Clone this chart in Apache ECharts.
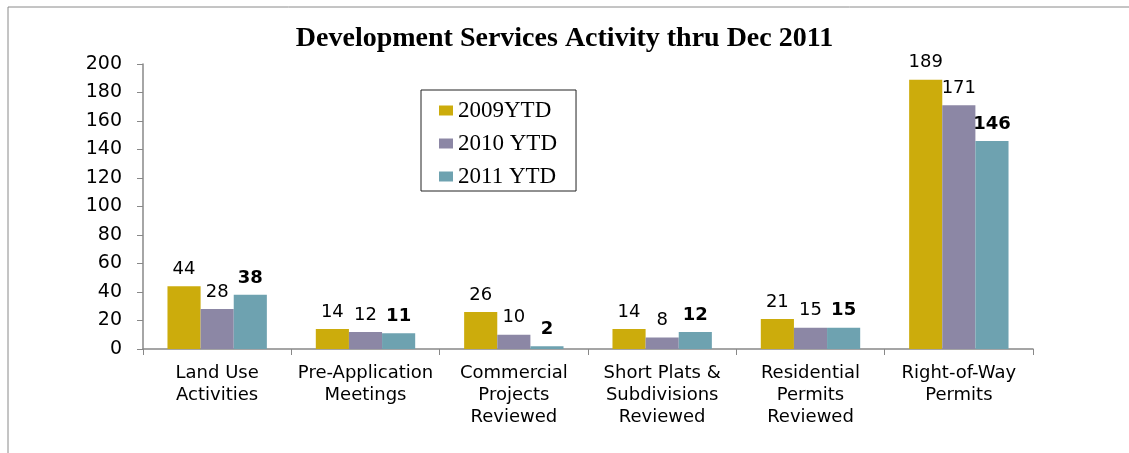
<!DOCTYPE html>
<html>
<head>
<meta charset="utf-8">
<script src="https://cdn.jsdelivr.net/npm/echarts@6/dist/echarts.min.js"></script>
<style>
  html, body { margin: 0; padding: 0; background: #fff; }
  #chart { width: 1129px; height: 453px; }
</style>
</head>
<body>
<div id="chart"></div>
<script>
// data
const categories = [
  'Land Use\nActivities',
  'Pre-Application\nMeetings',
  'Commercial\nProjects\nReviewed',
  'Short Plats &\nSubdivisions\nReviewed',
  'Residential\nPermits\nReviewed',
  'Right-of-Way\nPermits'
]
const ytd2009 = [44, 14, 26, 14, 21, 189]
const ytd2010 = [28, 12, 10, 8, 15, 171]
const ytd2011 = [38, 11, 2, 12, 15, 146]
const seriesNames = ['2009YTD', '2010 YTD', '2011 YTD']
const colors = ['#CCAC0C', '#8C87A5', '#6EA2B0']

const labelFont = 'DejaVu Sans'
const chart = echarts.init(document.getElementById('chart'))

const makeSeries = (name, data, color, bold) => ({
  name,
  type: 'bar',
  data,
  barGap: 0,
  barCategoryGap: '33%',
  itemStyle: { color },
  label: {
    show: true,
    position: 'top',
    distance: 8,
    color: '#000',
    fontFamily: labelFont,
    fontSize: 18,
    fontWeight: bold ? 'bold' : 'normal'
  }
})

chart.setOption({
  animation: false,
  color: colors,
  title: {
    text: 'Development Services Activity thru Dec 2011',
    left: 'center',
    top: 20,
    textStyle: {
      fontFamily: 'Liberation Serif',
      fontSize: 28,
      fontWeight: 'bold',
      color: '#000'
    }
  },
  // outer chart frame (runs past the right/bottom edge)
  graphic: [{
    type: 'rect',
    shape: { x: 8, y: 7, width: 1140, height: 460 },
    style: { fill: 'none', stroke: '#8a8a8a', lineWidth: 1 },
    silent: true
  }],
  legend: {
    orient: 'vertical',
    left: 421,
    top: 90,
    padding: [9, 19, 3, 18],
    itemGap: 10,
    itemWidth: 14,
    itemHeight: 10,
    icon: 'rect',
    borderColor: '#222',
    borderWidth: 1,
    textStyle: {
      fontFamily: 'Liberation Serif',
      fontSize: 23,
      lineHeight: 22,
      color: '#000'
    },
    data: seriesNames
  },
  grid: { left: 143, right: 96, top: 64, bottom: 104 },
  xAxis: {
    type: 'category',
    data: categories,
    axisLine: { lineStyle: { color: '#888', width: 1.5 } },
    axisTick: { show: true, length: 6, lineStyle: { color: '#888' } },
    axisLabel: {
      interval: 0,
      margin: 13,
      lineHeight: 22,
      color: '#000',
      fontFamily: labelFont,
      fontSize: 18
    }
  },
  yAxis: {
    type: 'value',
    min: 0,
    max: 200,
    interval: 20,
    splitLine: { show: false },
    axisLine: { show: true, lineStyle: { color: '#888', width: 1.5 } },
    axisTick: { show: true, length: 6, lineStyle: { color: '#888' } },
    axisLabel: {
      margin: 21,
      color: '#000',
      fontFamily: labelFont,
      fontSize: 19
    }
  },
  series: [
    makeSeries(seriesNames[0], ytd2009, colors[0], false),
    makeSeries(seriesNames[1], ytd2010, colors[1], false),
    makeSeries(seriesNames[2], ytd2011, colors[2], true)
  ]
})
</script>
</body>
</html>
